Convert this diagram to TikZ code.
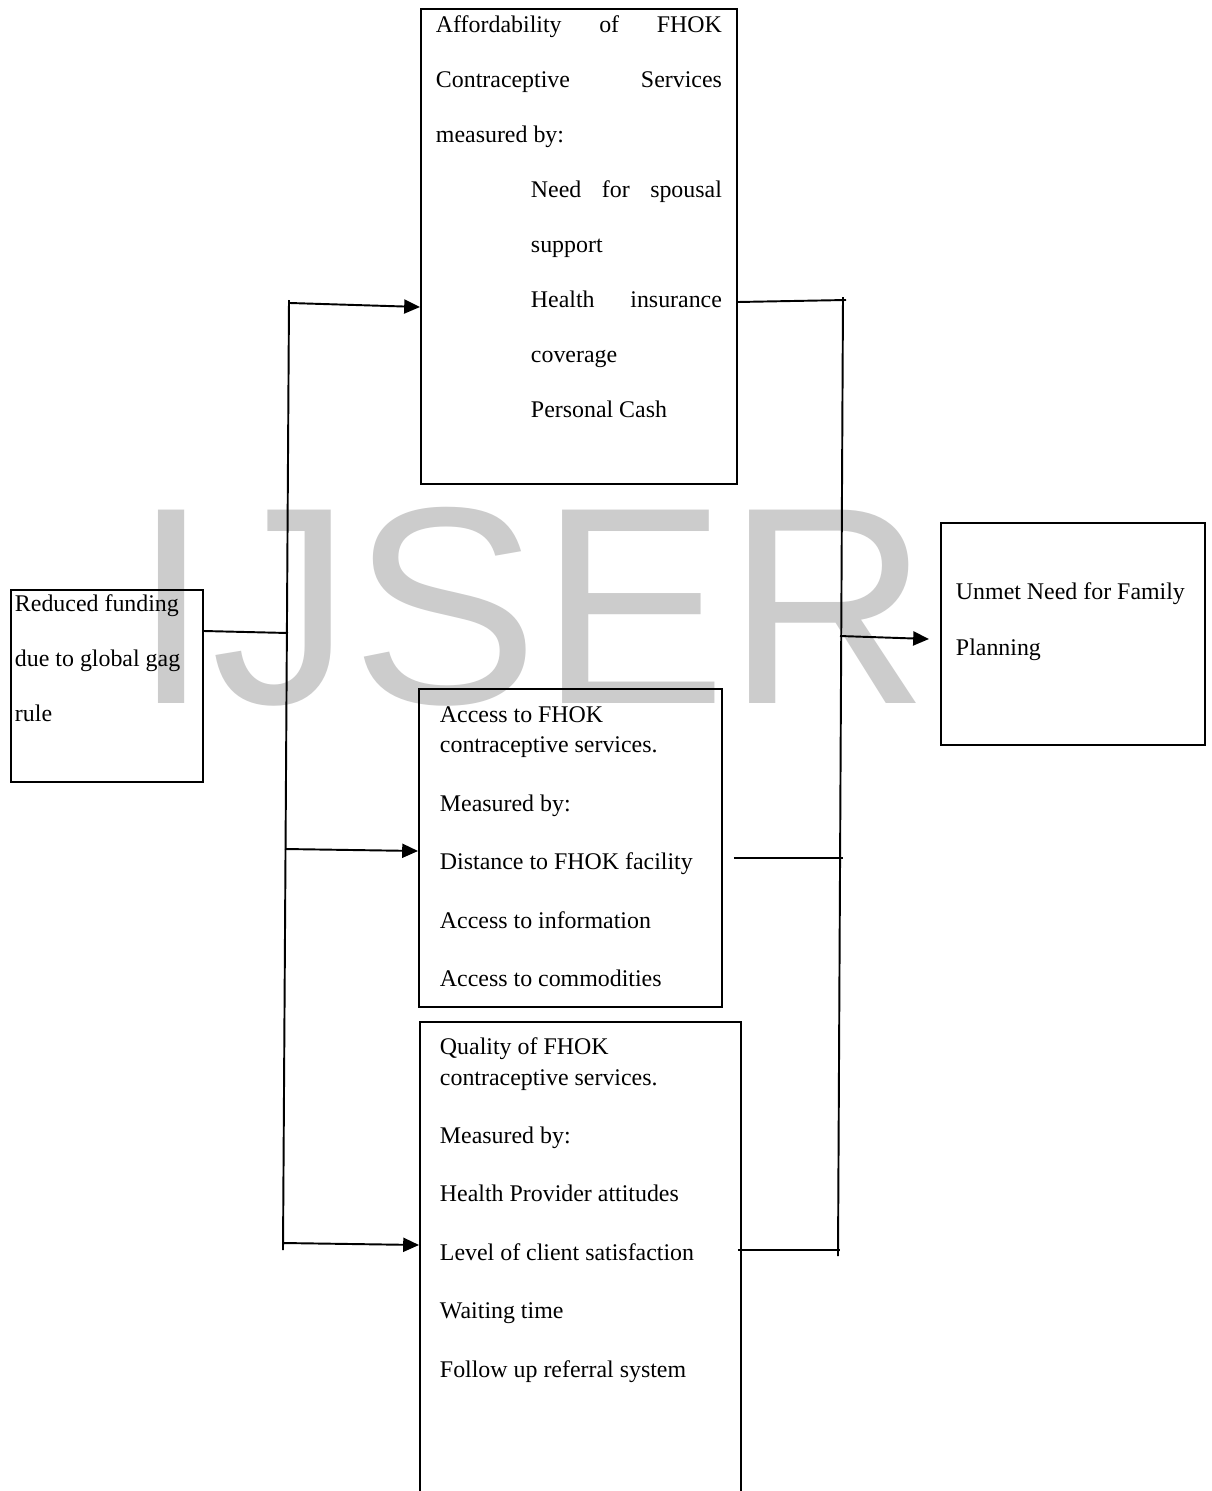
\documentclass[tikz,border=0pt]{standalone}
\usepackage{fontspec}
\setmainfont{Liberation Serif}
\newfontfamily\wmfont{Liberation Sans}
\usetikzlibrary{positioning, arrows.meta, calc}
\definecolor{wmgray}{RGB}{204,204,204}

\begin{document}
\begin{tikzpicture}[
    x=0.02cm, y=-0.02cm,
    line width=1.1pt,
    >={Triangle[length=9pt, width=8pt]},
    box/.style={draw, rectangle, anchor=north west, inner sep=0pt},
    txt/.style={anchor=base west, inner sep=0pt, font=\fontsize{13.6}{16}\selectfont}
]
    \clip (0,0) rectangle (1211,1491);
    \fill[white] (0,0) rectangle (1211,1491);

    % --- Watermark ---
    \node[text=wmgray, font=\wmfont\fontsize{160}{160}\selectfont, anchor=base west, inner sep=0pt] (wm) at (132,703) {IJSER};

    % --- Boxes ---
    \node[box, minimum width=6.32cm, minimum height=9.5cm] (afford) at (420,8) {};
    \node[box, minimum width=3.84cm, minimum height=3.84cm] (funding) at (10,589) {};
    \node[box, minimum width=6.06cm, minimum height=6.36cm] (access) at (418,688) {};
    \node[box, minimum width=6.42cm, minimum height=10.4cm] (quality) at (419,1021) {};
    \node[box, minimum width=5.28cm, minimum height=4.44cm] (unmet) at (940,522) {};

    % --- Affordability ---
    \node[txt] (af1) at (435,32) {\makebox[5.72cm][s]{Affordability of FHOK}};
    \node[txt] (af2) at (435,87) {\makebox[5.72cm][s]{Contraceptive Services}};
    \node[txt] (af3) at (435,142) {measured by:};
    \node[txt] (af4) at (530,197) {\makebox[3.82cm][s]{Need for spousal}};
    \node[txt] (af5) at (530,252) {support};
    \node[txt] (af6) at (530,307) {\makebox[3.82cm][s]{Health insurance}};
    \node[txt] (af7) at (530,362) {coverage};
    \node[txt] (af8) at (530,417) {Personal Cash};

    % --- Reduced funding ---
    \node[txt] (fu1) at (14,611) {Reduced funding};
    \node[txt] (fu2) at (14,666) {due to global gag};
    \node[txt] (fu3) at (14,721) {rule};

    % --- Access ---
    \node[txt] (ac1) at (439,722) {Access to FHOK};
    \node[txt] (ac2) at (439,752) {contraceptive services.};
    \node[txt] (ac3) at (439,811) {Measured by:};
    \node[txt] (ac4) at (439,869) {Distance to FHOK facility};
    \node[txt] (ac5) at (439,928) {Access to information};
    \node[txt] (ac6) at (439,986) {Access to commodities};

    % --- Quality ---
    \node[txt] (qu1) at (439,1054) {Quality of FHOK};
    \node[txt] (qu2) at (439,1085) {contraceptive services.};
    \node[txt] (qu3) at (439,1143) {Measured by:};
    \node[txt] (qu4) at (439,1201) {Health Provider attitudes};
    \node[txt] (qu5) at (439,1260) {Level of client satisfaction};
    \node[txt] (qu6) at (439,1318) {Waiting time};
    \node[txt] (qu7) at (439,1377) {Follow up referral system};

    % --- Unmet need ---
    \node[txt] (un1) at (955,599) {Unmet Need for Family};
    \node[txt] (un2) at (955,655) {Planning};

    % --- Left trunk ---
    \coordinate (ltop) at (289,300);
    \coordinate (lbot) at (283,1250);
    \coordinate (lmid) at (288,633);
    \coordinate (j1) at (290,303);
    \coordinate (j2) at (285,849);
    \coordinate (j3) at (283,1243);
    \draw (ltop) -- (lbot);
    \draw ($(funding.north east)+(0,42)$) -- (lmid);
    \draw[->] (j1) -- ($(afford.north west)+(0,299)$);
    \draw[->] (j2) -- ($(access.north west)+(0,163)$);
    \draw[->] (j3) -- ($(quality.north west)+(0,224)$);

    % --- Right trunk ---
    \coordinate (rtop) at (843,297);
    \coordinate (rbot) at (838,1256);
    \coordinate (r1) at (846,300);
    \coordinate (r2) at (843,858);
    \coordinate (r3) at (840,1250);
    \coordinate (r0) at (840,636);
    \draw (rtop) -- (rbot);
    \draw ($(afford.north east)+(0,294)$) -- (r1);
    \draw ($(access.north east)+(11,170)$) -- (r2);
    \draw ($(quality.north east)+(-4,229)$) -- (r3);
    \draw[->] (r0) -- ($(unmet.north west)+(-11,117)$);

\end{tikzpicture}
\end{document}
